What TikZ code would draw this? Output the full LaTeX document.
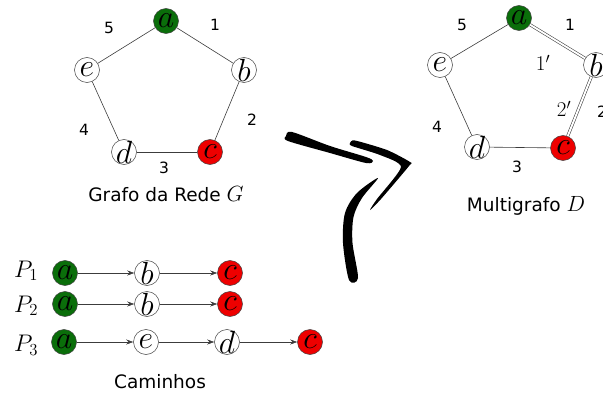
\RequirePackage{fix-cm}
\documentclass[tikz,border=0pt]{standalone}
\usepackage{fontspec}
\newfontfamily\captionfont{DejaVu Sans}
\usetikzlibrary{arrows.meta}
\definecolor{nodegreen}{RGB}{10,110,10}
\definecolor{nodered}{RGB}{238,0,0}
\definecolor{edgegray}{RGB}{60,60,60}
\newcommand{\capmath}[1]{{\fontsize{22}{22}\selectfont$#1$}}
\begin{document}
\begin{tikzpicture}[x=1pt,y=-1pt,
  vtx/.style={circle,draw=black!75,line width=0.5pt,fill=white,minimum size=25pt,
    inner sep=-4pt,font=\fontsize{32}{32}\selectfont},
  src/.style={vtx,fill=nodegreen},
  dst/.style={vtx,fill=nodered},
  edge/.style={draw=edgegray,line width=0.6pt},
  dbl/.style={draw=edgegray,line width=0.55pt,double=white,double distance=1.9pt},
  hop/.style={draw=edgegray,line width=0.6pt,-{Stealth[length=7pt,width=5pt]}},
  wlabel/.style={font=\captionfont\fontsize{15.5}{15.5}\selectfont,inner sep=0pt},
  plabel/.style={font=\fontsize{21}{21}\selectfont,inner sep=0pt},
  caption/.style={font=\captionfont\fontsize{18.5}{18.5}\selectfont,inner sep=0pt,anchor=base},
  pname/.style={font=\fontsize{24}{24}\selectfont,inner sep=0pt,anchor=base west}]
\useasboundingbox (0,0) rectangle (603,396);
\clip (0,0) rectangle (603,396);

% network graph G
\node[src] (ga) at (166,21) {$a$};
\node[vtx] (gb) at (244,70) {$b$};
\node[dst] (gc) at (210,152) {$c$};
\node[vtx] (gd) at (124,152) {$d$};
\node[vtx] (ge) at (87,70) {$e$};
\draw[edge] (ga) -- (gb);
\draw[edge] (gb) -- (gc);
\draw[edge] (gc) -- (gd);
\draw[edge] (gd) -- (ge);
\draw[edge] (ge) -- (ga);
\node[wlabel] (g5) at (109,28) {5};
\node[wlabel] (g1) at (215,25) {1};
\node[wlabel] (g2) at (252,120) {2};
\node[wlabel] (g3) at (164,168) {3};
\node[wlabel] (g4) at (84,130) {4};
\node[caption] (gcap) at (166,201.5) {Grafo da Rede \capmath{G}};

% multigraph D
\node[src] (da) at (519,18) {$a$};
\node[vtx] (db) at (596,65) {$b$};
\node[dst] (dc) at (563,148) {$c$};
\node[vtx] (dd) at (477,147) {$d$};
\node[vtx] (de) at (440,65) {$e$};
\draw[dbl] (da) -- (db);
\draw[dbl] (db) -- (dc);
\draw[edge] (dc) -- (dd);
\draw[edge] (dd) -- (de);
\draw[edge] (de) -- (da);
\node[wlabel] (d5) at (462,25) {5};
\node[wlabel] (d1) at (570,25) {1};
\node[plabel] (d1p) at (543,63) {$1'$};
\node[plabel] (d2p) at (564,109) {$2'$};
\node[wlabel] (d2) at (602,112) {2};
\node[wlabel] (d4) at (437,127) {4};
\node[wlabel] (d3) at (517,167) {3};
\node[caption] (dcap) at (526,211) {Multigrafo \capmath{D}};

% paths
\node[pname] (p1) at (14,277) {$P_1$};
\node[src] (p1a) at (65,273) {$a$};
\node[vtx] (p1b) at (147,273) {$b$};
\node[dst] (p1c) at (230,273) {$c$};
\draw[hop] (p1a) -- (p1b);
\draw[hop] (p1b) -- (p1c);

\node[pname] (p2) at (14,312) {$P_2$};
\node[src] (p2a) at (65,304) {$a$};
\node[vtx] (p2b) at (147,304) {$b$};
\node[dst] (p2c) at (230,304) {$c$};
\draw[hop] (p2a) -- (p2b);
\draw[hop] (p2b) -- (p2c);

\node[pname] (p3) at (14,351.5) {$P_3$};
\node[src] (p3a) at (64,342) {$a$};
\node[vtx] (p3e) at (146,342) {$e$};
\node[vtx] (p3d) at (227,342) {$d$};
\node[dst] (p3c) at (310,342) {$c$};
\draw[hop] (p3a) -- (p3e);
\draw[hop] (p3e) -- (p3d);
\draw[hop] (p3d) -- (p3c);
\node[caption] (pcap) at (160,388.3) {Caminhos};

% brush-stroke arrow
\fill[black] plot[smooth cycle,tension=0.5] coordinates
  {(286,136) (292,132) (330,146) (366,157) (373,161) (366,163) (330,153) (288,141)};
\fill[black] plot[smooth cycle,tension=0.4] coordinates
  {(350,143) (355,140.5) (387,150) (410,162) (409,166) (381,199) (370,210)
   (377,199) (401,167) (380,155) (352,146)};
\fill[black] plot[smooth cycle,tension=0.5] coordinates
  {(378,178) (357,193) (345,213) (343,243) (349,280) (358,278) (352.5,243)
   (353.5,217) (362,198)};
\end{tikzpicture}
\end{document}
